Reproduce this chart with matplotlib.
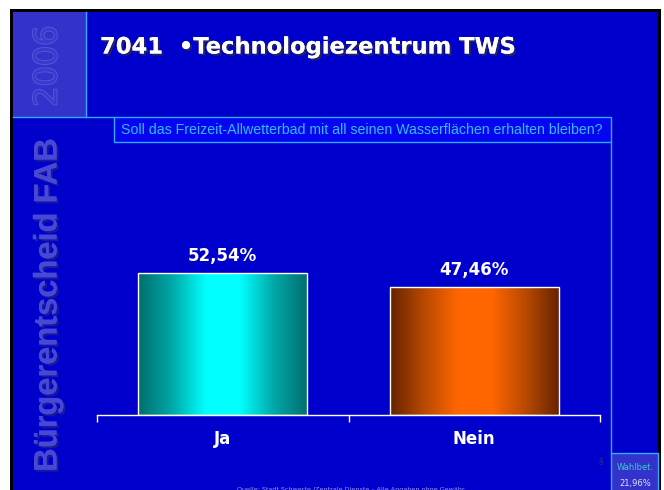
import numpy as np
import matplotlib
matplotlib.use('Agg')
import matplotlib.pyplot as plt
from matplotlib.patches import Rectangle
from matplotlib.colors import LinearSegmentedColormap
import matplotlib.patheffects as pe

# data
categories = ['Ja', 'Nein']
values = [52.54, 47.46]
value_labels = ['52,54%', '47,46%']
question = 'Soll das Freizeit-Allwetterbad mit all seinen Wasserflächen erhalten bleiben?'
title = '7041  \u2022Technologiezentrum TWS'
turnout_label = 'Wahlbet.'
turnout_value = '21,96%'
source = 'Quelle: Stadt Schwerte /Zentrale Dienste \u2013 Alle Angaben ohne Gewähr'

W, H = 664, 490
BLUE = '#0000cc'
PANEL = '#3333cc'
LINE = '#33aaff'

fig = plt.figure(figsize=(W / 100, H / 100), dpi=100)
fig.patch.set_facecolor('white')

# background layer in pixel coordinates
bg = fig.add_axes([0, 0, 1, 1])
bg.set_xlim(0, W)
bg.set_ylim(H, 0)
bg.axis('off')
bg.add_patch(Rectangle((10, 9), 651, 495, fc='black', ec='none'))
bg.add_patch(Rectangle((13, 12), 645, 495, fc=BLUE, ec='none'))
bg.add_patch(Rectangle((13, 12), 73, 105, fc=PANEL, ec='none'))
bg.plot([86, 86], [12, 117], color=LINE, lw=1)
bg.plot([13, 114], [117, 117], color=LINE, lw=1)
bg.add_patch(Rectangle((114, 117), 497, 25, fc='#0505f0', ec=LINE, lw=1))
bg.plot([611, 611], [142, 453], color=LINE, lw=1)
bg.add_patch(Rectangle((611, 453), 47, 45, fc=PANEL, ec=LINE, lw=1))

# side texts
bg.text(48, 66, '2006', rotation=90, ha='center', va='center', fontsize=23,
        family='DejaVu Sans', color='#3a3acc',
        path_effects=[pe.withStroke(linewidth=1.3, foreground='#5656e0')])
bg.text(48, 305, 'Bürgerentscheid FAB', rotation=90, ha='center', va='center',
        fontsize=23.5, fontweight='bold', family='Liberation Sans', color='#4848d6',
        path_effects=[pe.withSimplePatchShadow(offset=(1.5, -1.5), shadow_rgbFace='#1a1a99', alpha=1),
                      pe.Normal()])

# title
bg.text(100, 47, title, ha='left', va='center', fontsize=16.3, fontweight='bold',
        family='DejaVu Sans', color='white',
        path_effects=[pe.withSimplePatchShadow(offset=(1.5, -1.5), shadow_rgbFace='#222266', alpha=1),
                      pe.Normal()])

bg.text(362, 130, question, ha='center', va='center', fontsize=10.2,
        family='Liberation Sans', color='#33bbff')

bg.text(635, 467, turnout_label, ha='center', va='center', fontsize=6,
        family='DejaVu Sans', color='#33cccc')
bg.text(635, 483, turnout_value, ha='center', va='center', fontsize=6,
        family='DejaVu Sans', color='#e0e0ff')
bg.text(601, 462, '8', ha='center', va='center', fontsize=5.5, color='#2a2a99')
bg.text(351, 489, source, ha='center', va='center', fontsize=4.6,
        family='DejaVu Sans', color='#9999ee')

# chart
ax = fig.add_axes([97 / W, 1 - 415 / H, 503 / W, 270 / H])
ax.set_facecolor('none')
x = np.arange(len(categories))
bars = ax.bar(x, values, width=0.672, color='none', edgecolor='white', lw=1, zorder=3)

grads = [
    LinearSegmentedColormap.from_list('cy', ['#006e6e', '#00a8a8', '#00ffff', '#00ffff', '#00a8a8', '#006e6e'],
                                      N=256),
    LinearSegmentedColormap.from_list('or', ['#662200', '#b84a00', '#ff6600', '#ff6600', '#b84a00', '#662200'],
                                      N=256),
]
ramp = np.linspace(0, 1, 256).reshape(1, -1)
for bar, cmap in zip(bars, grads):
    x0, y0 = bar.get_x(), bar.get_y()
    w, h = bar.get_width(), bar.get_height()
    im = ax.imshow(ramp, cmap=cmap, aspect='auto', extent=(x0, x0 + w, y0, y0 + h),
                   interpolation='bicubic', zorder=2)
    im.set_clip_path(bar)

for xi, v, lab in zip(x, values, value_labels):
    ax.text(xi, v + 3, lab, ha='center', va='bottom', fontsize=12, fontweight='bold',
            family='DejaVu Sans', color='white')

ax.set_xlim(-0.5, 1.5)
ax.set_ylim(0, 100)
for s in ['top', 'right', 'left']:
    ax.spines[s].set_visible(False)
ax.spines['bottom'].set_color('white')
ax.spines['bottom'].set_linewidth(1)
ax.set_yticks([])
ax.set_xticks(x)
ax.set_xticklabels(categories, fontsize=12, fontweight='bold', family='DejaVu Sans', color='white')
ax.tick_params(axis='x', which='major', length=0, pad=11)
ax.set_xticks([-0.5, 0.5, 1.5], minor=True)
ax.tick_params(axis='x', which='minor', length=5, color='white', width=1)

fig.savefig('out.png', dpi=100)
